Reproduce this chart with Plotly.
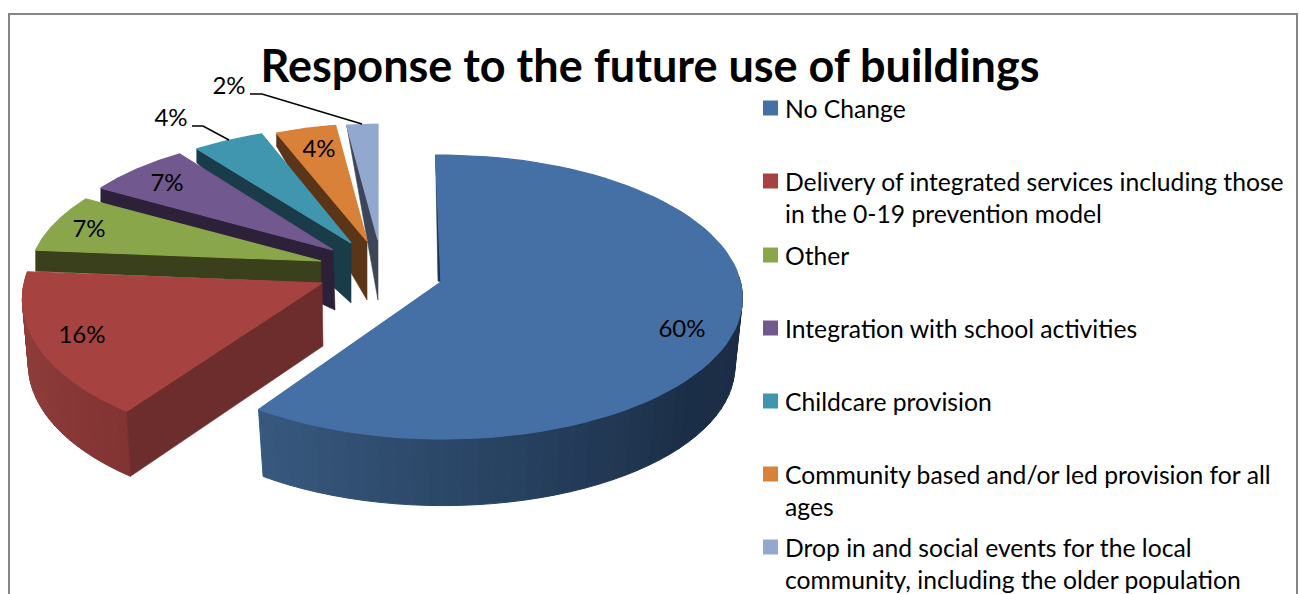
import math
import plotly.graph_objects as go

# ---------- data ----------
TITLE = "Response to the future use of buildings"
CATEGORIES = [
    "No Change",
    "Delivery of integrated services including those<br>in the 0-19 prevention model",
    "Other",
    "Integration with school activities",
    "Childcare provision",
    "Community based and/or led provision for all<br>ages",
    "Drop in and social events for the local<br>community, including the older population",
]
VALUES = [59.7, 16.0, 7.0, 6.7, 4.3, 4.3, 2.0]

# ---------- styling and layout ----------
TOP_COLORS = ["#4570a6", "#a64240", "#8aa64b", "#71588e", "#4096ae", "#d98139", "#93a8cf"]
WALL_COLORS = ["#1b3350", "#6e2d2d", "#3a3f1c", "#2c2138", "#1a3b48", "#5a3517", "#3d4658"]
START_ANGLE = -0.8
FONT = "Lato, Carlito, Calibri, sans-serif"

# exploded-slice projection: apex position, radii, perspective, skew, wall depths
GEOM = [
    dict(ax=441, ay=282, a=299.5, b=140.4, k=0.1056, sk=0.006, sky=0.0, dep=69, tip=66, bs=0.975, bsy=0.985),
    dict(ax=322, ay=283, a=296, b=146, k=0.1056, sk=-0.05, sky=0.046, dep=63, tip=65, bs=0.98, bsy=1.0),
    dict(ax=321, ay=261, a=287, b=130, k=0.1056, sk=-0.073, sky=0.053, dep=22, tip=21, bs=1, bsy=1),
    dict(ax=333, ay=250, a=279, b=127, k=0.1056, sk=-0.0435, sky=0.065, dep=60, tip=14, bs=1, bsy=1),
    dict(ax=351, ay=243, a=288, b=130, k=0.1056, sk=-0.0634, sky=0.01, dep=60, tip=14, bs=1, bsy=1),
    dict(ax=367, ay=241, a=249, b=129, k=0.1056, sk=0.0, sky=0.0, dep=59, tip=13, bs=1, bsy=1),
    dict(ax=378, ay=240, a=276, b=128, k=0.1056, sk=-0.014, sky=0.0, dep=60, tip=4, bs=1, bsy=1),
]
LABEL_POS = [(682, 331), (82, 337), (89, 231), (167, 185), (171, 120), (319, 151), (229, 88)]
LEGEND_Y = [108, 181, 255, 328, 401, 474, 547]
LEADERS = [([192, 203, 229], [126, 126, 140]), ([250, 262, 362], [94, 94, 124])]


def rim(g, deg, depth=0.0, sx=1.0, sy=1.0):
    t = math.radians(deg)
    s, c = math.sin(t), -math.cos(t)
    d = 1 - g["k"] * c
    x = g["a"] * sx * (s + g["sk"] * c) / d
    y = g["b"] * sy * (c + g["sky"] * s) / d
    return g["ax"] + x, g["ay"] + depth + y


def mix(c1, c2, f):
    p = [int(c1[i:i + 2], 16) for i in (1, 3, 5)]
    q = [int(c2[i:i + 2], 16) for i in (1, 3, 5)]
    return "rgb(%d,%d,%d)" % tuple(round(p[i] + (q[i] - p[i]) * f) for i in range(3))


def gradient(stops, deg):
    for (d1, c1), (d2, c2) in zip(stops, stops[1:]):
        if d1 <= deg <= d2:
            return mix(c1, c2, (deg - d1) / (d2 - d1))
    return stops[-1][1]


def poly(fig, pts, color, lw=0.6):
    fig.add_trace(go.Scatter(
        x=[p[0] for p in pts] + [pts[0][0]],
        y=[p[1] for p in pts] + [pts[0][1]],
        mode="lines", fill="toself", fillcolor=color,
        line=dict(color=color, width=lw),
        hoverinfo="skip", showlegend=False))


edges = [START_ANGLE]
total = sum(VALUES)
for v in VALUES:
    edges.append(edges[-1] + v / total * 360)

ARC_GRADIENTS = {
    0: [(60, "#1a2c43"), (130, "#1b2e47"), (175, "#2a4565"), (215, "#38597f")],
    1: [(214, "#823432"), (240, "#8a3a38"), (275, "#8f3f3c")],
}

fig = go.Figure()

# slices are painted back to front
for i in [6, 5, 4, 3, 2, 1, 0]:
    g = GEOM[i]
    t0, t1 = edges[i], edges[i + 1]
    n = 80
    angles = [t0 + (t1 - t0) * j / n for j in range(n + 1)]
    apex = (g["ax"], g["ay"])
    if i == 0:
        tip = rim(g, t0)
        poly(fig, [tip, (apex[0] - 3, apex[1] - 1), apex], WALL_COLORS[0])
        lo, hi = 88, t1
    elif i == 1:
        lo, hi = t0, t1
    if i in ARC_GRADIENTS:
        bands = 44
        depth = g["dep"] if i == 0 else g["tip"]
        # painted in order so each band overlaps the seam of the one before
        for j in range(bands):
            d1 = lo + (hi - lo) * j / bands
            d2 = lo + (hi - lo) * (j + 1) / bands
            poly(fig, [rim(g, d1), rim(g, d2),
                       rim(g, d2, depth, g["bs"], g["bsy"]),
                       rim(g, d1, depth, g["bs"], g["bsy"])],
                 gradient(ARC_GRADIENTS[i], (d1 + d2) / 2), lw=1.0)
    if i == 1:
        corner = rim(g, t0)
        poly(fig, [apex, corner, rim(g, t0, g["tip"], g["bs"], g["bsy"]),
                   (apex[0] + 1, apex[1] + g["dep"])], WALL_COLORS[1])
    if i >= 2:
        tip = rim(g, t0)
        poly(fig, [tip, apex, (apex[0] + (2 if i == 3 else 0), apex[1] + g["dep"]),
                   (tip[0], tip[1] + g["tip"])], WALL_COLORS[i])
    poly(fig, [apex] + [rim(g, a) for a in angles], TOP_COLORS[i], lw=1.2)

# leader lines
for lx, ly in LEADERS:
    fig.add_trace(go.Scatter(x=lx, y=ly, mode="lines", line=dict(color="#000000", width=1.5),
                             hoverinfo="skip", showlegend=False))

# percentage labels
fig.add_trace(go.Scatter(
    x=[p[0] for p in LABEL_POS], y=[p[1] for p in LABEL_POS],
    text=[f"{v:.0f}%" for v in VALUES], mode="text",
    textposition="middle center",
    textfont=dict(family=FONT, size=24, color="#000000"),
    hoverinfo="skip", showlegend=False))

# legend swatches
fig.add_trace(go.Scatter(
    x=[770.5] * len(CATEGORIES), y=LEGEND_Y, mode="markers",
    marker=dict(symbol="square", size=15, color=TOP_COLORS, line=dict(width=0)),
    hovertext=[c.replace("<br>", " ") for c in CATEGORIES], hoverinfo="text", showlegend=False))

annotations = []
for name, y in zip(CATEGORIES, LEGEND_Y):
    annotations.append(dict(
        x=783, y=y - 16, xref="x", yref="y", text=name, showarrow=False,
        xanchor="left", yanchor="top", align="left",
        font=dict(family=FONT, size=24.7, color="#000000")))

fig.update_layout(
    width=1299, height=594, autosize=False,
    margin=dict(l=0, r=0, t=0, b=0),
    paper_bgcolor="#ffffff", plot_bgcolor="#ffffff",
    showlegend=False,
    title=dict(text="<b>%s</b>" % TITLE, x=650 / 1299, xanchor="center",
               y=1 - 66 / 594, yanchor="middle",
               font=dict(family=FONT, size=45, color="#000000")),
    xaxis=dict(range=[0, 1299], visible=False, fixedrange=True),
    yaxis=dict(range=[594, 0], visible=False, fixedrange=True),
    annotations=annotations,
    shapes=[dict(type="rect", xref="x", yref="y", x0=9, y0=14, x1=1297, y1=640,
                 line=dict(color="#868686", width=2), layer="below")],
)

fig.write_html("out.html", config={"displayModeBar": False},
               post_script="document.body.style.margin='0';document.body.style.overflow='hidden';")
